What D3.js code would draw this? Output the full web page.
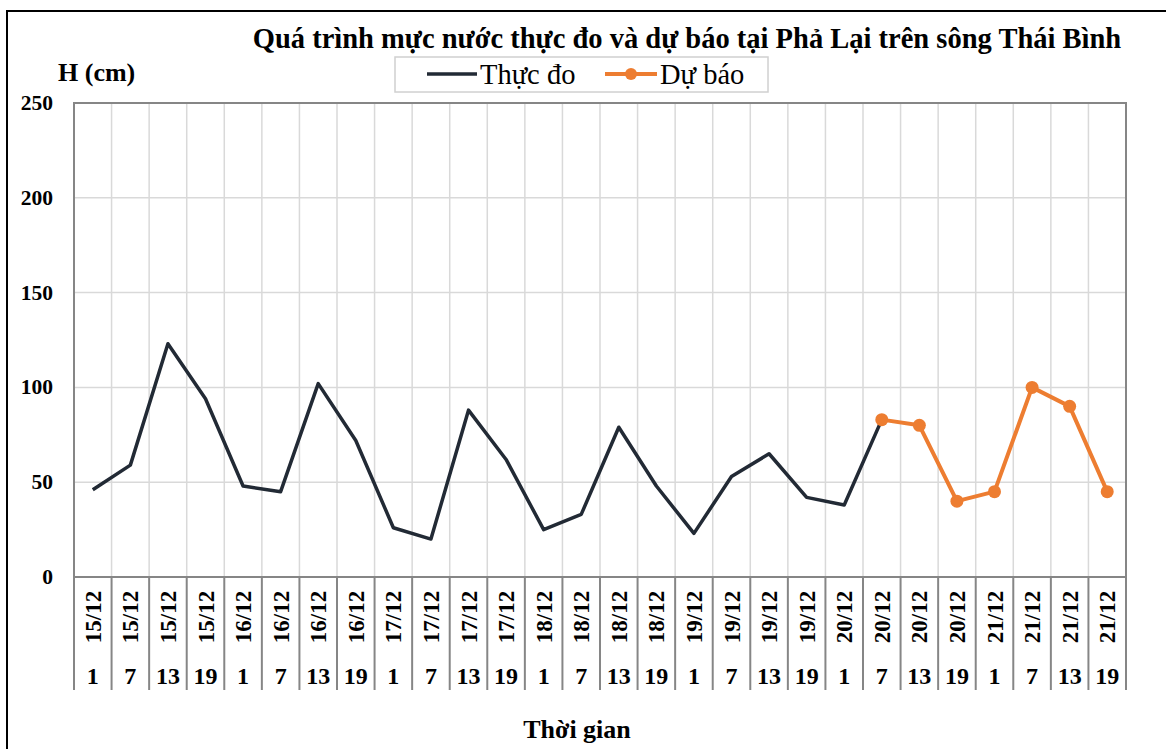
<!DOCTYPE html>
<html lang="vi">
<head>
    <meta charset="UTF-8">
    <title>Mực nước Phả Lại</title>
    <script src="https://d3js.org/d3.v7.min.js"></script>
    <style>
        body { margin: 0; background: #fff; }
        svg { display: block; }
    </style>
</head>
<body>
    <svg id="chart" width="1166" height="749" font-family="'Liberation Serif', 'Times New Roman', serif"></svg>

    <script>
        const dates = ["15/12","15/12","15/12","15/12","16/12","16/12","16/12","16/12",
                       "17/12","17/12","17/12","17/12","18/12","18/12","18/12","18/12",
                       "19/12","19/12","19/12","19/12","20/12","20/12","20/12","20/12",
                       "21/12","21/12","21/12","21/12"];
        const hours = ["1","7","13","19","1","7","13","19","1","7","13","19","1","7","13","19",
                       "1","7","13","19","1","7","13","19","1","7","13","19"];
        // null = không có số liệu
        const thucDo = [46, 59, 123, 94, 48, 45, 102, 72, 26, 20, 88, 62, 25, 33, 79, 48,
                        23, 53, 65, 42, 38, 83, null, null, null, null, null, null];
        const duBao = [null, null, null, null, null, null, null, null, null, null, null, null,
                       null, null, null, null, null, null, null, null, null, 83, 80, 40, 45, 100, 90, 45];
        const yTicks = [0, 50, 100, 150, 200, 250];

        const margin = {left: 74, right: 40, top: 103, bottom: 172};
        const W = 1166, H = 749;
        const x0 = margin.left, x1 = W - margin.right, y0 = H - margin.bottom, y1 = margin.top;

        const svg = d3.select("#chart");
        const idx = d3.range(dates.length);

        const x = d3.scaleBand().domain(idx).range([x0, x1]).padding(0);
        const y = d3.scaleLinear().domain([0, 250]).range([y0, y1]);
        const cx = i => x(i) + x.bandwidth() / 2;

        // khung ngoài
        svg.append("rect")
            .attr("x", 7).attr("y", 11).attr("width", 1170).attr("height", 760)
            .attr("fill", "none").attr("stroke", "#000").attr("stroke-width", 2);

        // lưới ngang
        svg.append("g")
            .selectAll("line")
            .data(yTicks.filter(d => d > 0 && d < 250))
            .join("line")
            .attr("x1", x0).attr("x2", x1)
            .attr("y1", d => y(d)).attr("y2", d => y(d))
            .attr("stroke", "#d9d9d9").attr("stroke-width", 1.5);

        // lưới dọc
        svg.append("g")
            .selectAll("line")
            .data(idx.slice(1))
            .join("line")
            .attr("x1", d => x(d)).attr("x2", d => x(d))
            .attr("y1", y1).attr("y2", y0)
            .attr("stroke", "#d9d9d9").attr("stroke-width", 1.5);

        // khung vùng vẽ
        svg.append("rect")
            .attr("x", x0).attr("y", y1).attr("width", x1 - x0).attr("height", y0 - y1)
            .attr("fill", "none").attr("stroke", "#868686").attr("stroke-width", 2);

        // nhãn trục tung
        svg.append("g")
            .selectAll("text")
            .data(yTicks)
            .join("text")
            .attr("x", 53)
            .attr("y", d => y(d) + 7)
            .attr("text-anchor", "end")
            .attr("font-weight", "bold")
            .attr("font-size", 21.5)
            .text(d => d);

        // vạch chia trục hoành (2 tầng)
        svg.append("g")
            .selectAll("line")
            .data(d3.range(dates.length + 1))
            .join("line")
            .attr("x1", d => d < dates.length ? x(d) : x1)
            .attr("x2", d => d < dates.length ? x(d) : x1)
            .attr("y1", y0).attr("y2", 690)
            .attr("stroke", "#868686").attr("stroke-width", 2);

        svg.append("g")
            .selectAll("text")
            .data(idx)
            .join("text")
            .attr("transform", d => `translate(${cx(d) + 8},${617}) rotate(-90)`)
            .attr("text-anchor", "middle")
            .attr("font-weight", "bold")
            .attr("font-size", 23)
            .text(d => dates[d]);

        svg.append("g")
            .selectAll("text")
            .data(idx)
            .join("text")
            .attr("x", d => cx(d))
            .attr("y", 684)
            .attr("text-anchor", "middle")
            .attr("font-weight", "bold")
            .attr("font-size", 24)
            .text(d => hours[d]);

        // đường số liệu
        const line = d3.line()
            .defined(d => d.v != null)
            .x(d => cx(d.i))
            .y(d => y(d.v));

        svg.append("path")
            .datum(idx.map(i => ({i, v: thucDo[i]})))
            .attr("fill", "none")
            .attr("stroke", "#222a35")
            .attr("stroke-width", 3.5)
            .attr("stroke-linejoin", "round")
            .attr("d", line);

        const dbData = idx.map(i => ({i, v: duBao[i]}));
        svg.append("path")
            .datum(dbData)
            .attr("fill", "none")
            .attr("stroke", "#ed7d31")
            .attr("stroke-width", 4)
            .attr("stroke-linejoin", "round")
            .attr("d", line);

        svg.append("g")
            .selectAll("circle")
            .data(dbData.filter(d => d.v != null))
            .join("circle")
            .attr("cx", d => cx(d.i))
            .attr("cy", d => y(d.v))
            .attr("r", 6.5)
            .attr("fill", "#ed7d31");

        // tiêu đề
        svg.append("text")
            .attr("x", 687).attr("y", 48)
            .attr("text-anchor", "middle")
            .attr("font-weight", "bold")
            .attr("font-size", 28.5)
            .text("Quá trình mực nước thực đo và dự báo tại Phả Lại trên sông Thái Bình");

        svg.append("text")
            .attr("x", 58).attr("y", 81)
            .attr("font-weight", "bold")
            .attr("font-size", 26)
            .text("H (cm)");

        svg.append("text")
            .attr("x", 577).attr("y", 738)
            .attr("text-anchor", "middle")
            .attr("font-weight", "bold")
            .attr("font-size", 26)
            .text("Thời gian");

        // chú giải
        const lg = svg.append("g");
        lg.append("rect")
            .attr("x", 395).attr("y", 57).attr("width", 373).attr("height", 35)
            .attr("fill", "#fff").attr("stroke", "#d0d0d0").attr("stroke-width", 1.5);
        lg.append("line")
            .attr("x1", 427).attr("x2", 477).attr("y1", 74).attr("y2", 74)
            .attr("stroke", "#222a35").attr("stroke-width", 3.5);
        lg.append("text")
            .attr("x", 480).attr("y", 84)
            .attr("font-size", 28.5)
            .text("Thực đo");
        lg.append("line")
            .attr("x1", 605).attr("x2", 657).attr("y1", 74).attr("y2", 74)
            .attr("stroke", "#ed7d31").attr("stroke-width", 4);
        lg.append("circle")
            .attr("cx", 631).attr("cy", 74).attr("r", 6)
            .attr("fill", "#ed7d31");
        lg.append("text")
            .attr("x", 660).attr("y", 84)
            .attr("font-size", 28.5)
            .text("Dự báo");
    </script>
</body>
</html>
